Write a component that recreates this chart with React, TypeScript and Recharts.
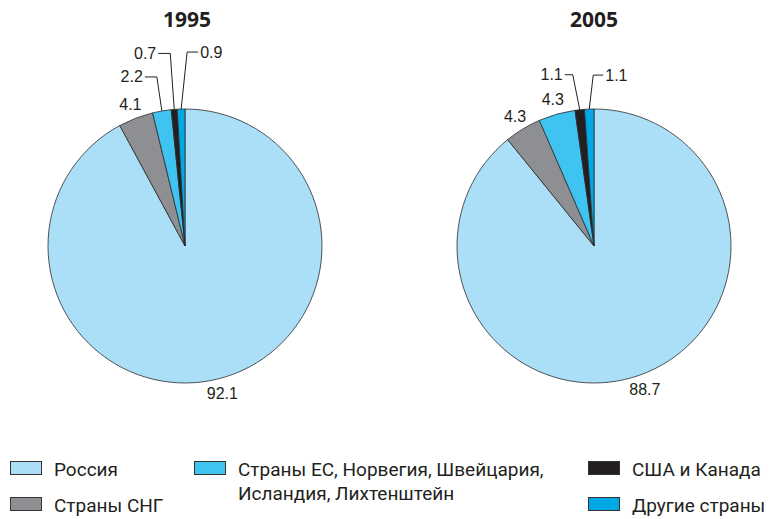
import React from "react";
import { Pie, PieChart, Cell } from "recharts";

const categories = [
  "Россия",
  "Страны СНГ",
  "Страны ЕС, Норвегия, Швейцария, Исландия, Лихтенштейн",
  "США и Канада",
  "Другие страны",
];
const values1995 = [92.1, 4.1, 2.2, 0.7, 0.9];
const values2005 = [88.7, 4.3, 4.3, 1.1, 1.1];
const years = ["1995", "2005"];

const COLORS = ["#abdff8", "#8d8f92", "#3fc4f1", "#231f20", "#00a8e6"];
const RAD = Math.PI / 180;

type LabelCfg = { type: "radial" } | { type: "elbow"; sx: number; rise: number; hx: number };

// leader line setups per slice (style only)
const labels1995: LabelCfg[] = [
  { type: "radial" },
  { type: "radial" },
  { type: "elbow", sx: -5, rise: 34, hx: -12 },
  { type: "elbow", sx: -4, rise: 56, hx: -12 },
  { type: "elbow", sx: 6, rise: 57, hx: 11 },
];
const labels2005: LabelCfg[] = [
  { type: "radial" },
  { type: "radial" },
  { type: "radial" },
  { type: "elbow", sx: -7, rise: 35, hx: -8 },
  { type: "elbow", sx: 4, rise: 34, hx: 10 },
];

const makeLabel = (cfg: LabelCfg[]) => (props: any) => {
  const { cx, cy, midAngle, outerRadius, value, index } = props;
  const c = cfg[index];
  const textStyle = { fontFamily: "'Liberation Sans', Arial, sans-serif", fontSize: 16, fill: "#231f20" };
  if (c.type === "radial") {
    const r = outerRadius + 15;
    const x = cx + Math.cos(-midAngle * RAD) * r;
    const y = cy + Math.sin(-midAngle * RAD) * r;
    return (
      <text x={x} y={y} textAnchor="middle" dominantBaseline="central" style={textStyle}>
        {value.toFixed(1)}
      </text>
    );
  }
  const ex = cx + Math.cos(-midAngle * RAD) * outerRadius;
  const ey = cy + Math.sin(-midAngle * RAD) * outerRadius;
  const bx = ex + c.sx;
  const by = ey - c.rise;
  const tx = bx + c.hx;
  return (
    <g>
      <polyline points={`${ex},${ey} ${bx},${by} ${tx},${by}`} fill="none" stroke="#231f20" strokeWidth={1} />
      <text
        x={tx + (c.hx < 0 ? -2 : 2)}
        y={by}
        textAnchor={c.hx < 0 ? "end" : "start"}
        dominantBaseline="central"
        style={textStyle}
      >
        {value.toFixed(1)}
      </text>
    </g>
  );
};

const toData = (vals: number[]) => categories.map((name, i) => ({ name, value: vals[i] }));

const legendCols = [[0, 1], [2], [3, 4]];
const legendX = [10, 194, 588];

export default function App() {
  return (
    <div style={{ position: "absolute", left: 0, top: 0, width: 777, height: 519, background: "#fff" }}>
      <PieChart width={777} height={519} margin={{ top: 0, right: 0, bottom: 0, left: 0 }}>
        {[values1995, values2005].map((vals, k) => (
          <Pie
            key={years[k]}
            data={toData(vals)}
            dataKey="value"
            cx={k === 0 ? 185 : 594}
            cy={246}
            outerRadius={137}
            startAngle={90}
            endAngle={-270}
            stroke="#2b2b2b"
            strokeWidth={0.8}
            isAnimationActive={false}
            labelLine={false}
            label={makeLabel(k === 0 ? labels1995 : labels2005)}
          >
            {vals.map((_, i) => (
              <Cell key={i} fill={COLORS[i]} />
            ))}
          </Pie>
        ))}
      </PieChart>
      {years.map((y, k) => (
        <div
          key={y}
          style={{
            position: "absolute",
            left: (k === 0 ? 187 : 594) - 50,
            width: 100,
            top: 4,
            textAlign: "center",
            fontFamily: "'Open Sans', sans-serif",
            fontWeight: 700,
            fontSize: 21,
            lineHeight: "30px",
            color: "#231f20",
          }}
        >
          {y}
        </div>
      ))}
      {legendCols.map((col, ci) =>
        col.map((idx, ri) => (
          <div
            key={idx}
            style={{
              position: "absolute",
              left: legendX[ci],
              top: 458 + ri * 36,
              display: "flex",
              alignItems: "flex-start",
              fontFamily: "Roboto, sans-serif",
              fontSize: 19,
              lineHeight: "24px",
              color: "#231f20",
            }}
          >
            <span
              style={{
                display: "inline-block",
                width: 30,
                height: 12,
                marginTop: 3,
                background: COLORS[idx],
                border: "1px solid #333",
                marginRight: 12,
              }}
            />
            <span style={{ width: idx === 2 ? 340 : 200 }}>
              {idx === 2 ? (
                <>
                  Страны ЕС, Норвегия, Швейцария,
                  <br />
                  Исландия, Лихтенштейн
                </>
              ) : (
                categories[idx]
              )}
            </span>
          </div>
        ))
      )}
    </div>
  );
}
